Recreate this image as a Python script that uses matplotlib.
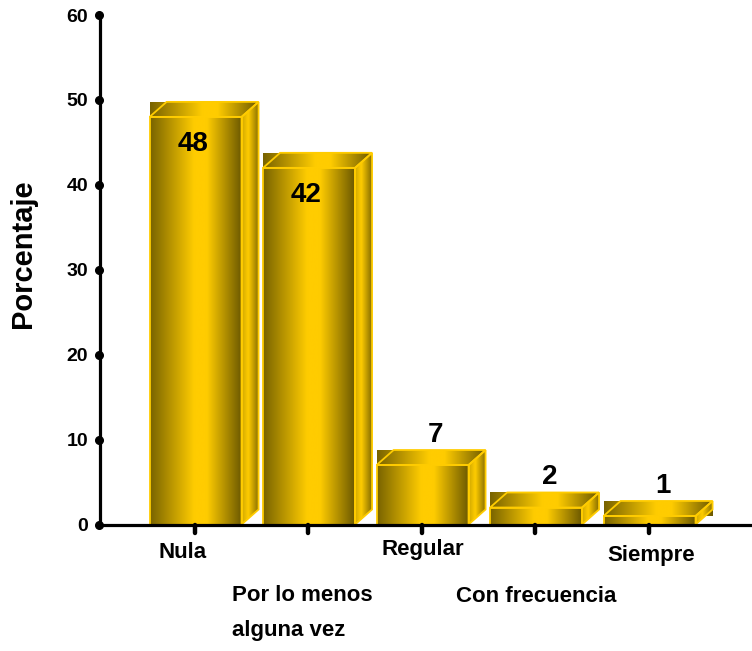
import numpy as np
import matplotlib
matplotlib.use("Agg")
import matplotlib.pyplot as plt
from matplotlib.colors import LinearSegmentedColormap
from matplotlib.patches import Polygon
import matplotlib.transforms as mtransforms

# ---- data ----
categories = ["Nula", "Por lo menos\nalguna vez", "Regular", "Con frecuencia", "Siempre"]
values = [48, 42, 7, 2, 1]
y_ticks = [0, 10, 20, 30, 40, 50, 60]
y_label = "Porcentaje"

# ---- styling ----
plt.rcParams["font.family"] = ["Liberation Sans", "DejaVu Sans"]
plt.rcParams["font.weight"] = "bold"

DARK = "#6c5900"
GOLD = "#ffcc00"
front_cmap = LinearSegmentedColormap.from_list(
    "front", [(0.0, "#786300"), (0.48, GOLD), (0.62, GOLD), (1.0, DARK)])
side_cmap = LinearSegmentedColormap.from_list(
    "side", [(0.0, "#d2aa00"), (0.35, GOLD), (1.0, "#7a6400")])

bar_w = 0.81      # front face width (category units)
depth_x = 0.15    # 3D depth, horizontal (category units)
depth_y = 1.77    # 3D depth, vertical (value units)

fig = plt.figure(figsize=(7.52, 6.51), dpi=100)
ax = fig.add_axes([100.5 / 752, 126.5 / 651, (752 - 100.5) / 752, 509.5 / 651])


def gradient_fill(xy, x_lo, x_hi, y_lo, y_hi, cmap, z):
    clip = Polygon(xy, closed=True, facecolor="none", edgecolor="none")
    ax.add_patch(clip)
    im = ax.imshow(np.linspace(0, 1, 256)[None, :], cmap=cmap,
                   extent=(x_lo, x_hi, y_lo, y_hi), aspect="auto",
                   origin="lower", interpolation="bicubic", zorder=z)
    im.set_clip_path(clip)


x_pos = np.arange(len(categories))
for i, v in zip(x_pos, values):
    x0 = i - bar_w / 2 + 0.005
    x1 = x0 + bar_w
    top = v + depth_y
    # block behind the top face
    gradient_fill([(x0, v), (x0, top), (x1 + depth_x, top), (x1 + depth_x, v)],
                  x0, x1 + depth_x, v, top, front_cmap, 2)
    # side face
    side = [(x1, 0), (x1 + depth_x, depth_y), (x1 + depth_x, top), (x1, v)]
    gradient_fill(side, x1, x1 + depth_x, 0, top, side_cmap, 3)
    # front face
    front = [(x0, 0), (x0, v), (x1, v), (x1, 0)]
    gradient_fill(front, x0, x1, 0, v, front_cmap, 4)
    # edges
    lid = [(x0, v), (x0 + depth_x, top), (x1 + depth_x, top), (x1, v)]
    for shape in (front, lid, side):
        ax.add_patch(Polygon(shape, closed=True, facecolor="none",
                             edgecolor=GOLD, lw=1.3, zorder=5))
    # value label
    if v >= 20:
        ax.annotate(str(v), xy=(i, v), xytext=(-2, -27), textcoords="offset pixels",
                    ha="center", va="center", fontsize=20, fontweight="bold", zorder=6)
    else:
        ax.annotate(str(v), xy=(i, top), xytext=(14, 15), textcoords="offset pixels",
                    ha="center", va="center", fontsize=20, fontweight="bold", zorder=6)

# category labels, staggered under the axis
label_dx = [-12, -76, 1, 1, 2]
label_dy = [-27.5, -88.5, -25.5, -72.5, -30.5]
label_ha = ["center", "left", "center", "center", "center"]
for i, (name, dx, dy, ha) in enumerate(zip(categories, label_dx, label_dy, label_ha)):
    ax.annotate(name, xy=(i, 0), xytext=(dx, dy), textcoords="offset pixels",
                ha=ha, va="center", multialignment="left", linespacing=1.9,
                fontsize=16, fontweight="bold", annotation_clip=False)

# axes
ax.set_xlim(-0.8326, 4.9075)
ax.set_ylim(0, 60)
for s in ("top", "right"):
    ax.spines[s].set_visible(False)
for s in ("left", "bottom"):
    ax.spines[s].set_linewidth(2.3)
    ax.spines[s].set_zorder(7)

# rounded tick marks under the category axis
ax.set_xticks(x_pos)
ax.set_xticklabels([])
ax.tick_params(axis="x", length=0)
xtrans = mtransforms.blended_transform_factory(ax.transData, ax.transAxes)
for i in x_pos:
    ax.plot([i, i], [0, -0.016], color="black", lw=3.2, solid_capstyle="round",
            transform=xtrans, clip_on=False, zorder=8)

ax.set_yticks(y_ticks)
ax.set_yticklabels([str(t) for t in y_ticks], fontsize=14, fontweight="bold")
ax.tick_params(axis="y", length=0, pad=9)
ytrans = mtransforms.blended_transform_factory(ax.transAxes, ax.transData)
ax.plot(np.full(len(y_ticks), -0.002), y_ticks, "o", ms=5.5, color="black",
        transform=ytrans, clip_on=False, zorder=8)

fig.text(23 / 752, 1 - 254 / 651, y_label, rotation=90, ha="center", va="center",
         fontsize=21, fontweight="bold")

fig.savefig("out.png", dpi=100)
